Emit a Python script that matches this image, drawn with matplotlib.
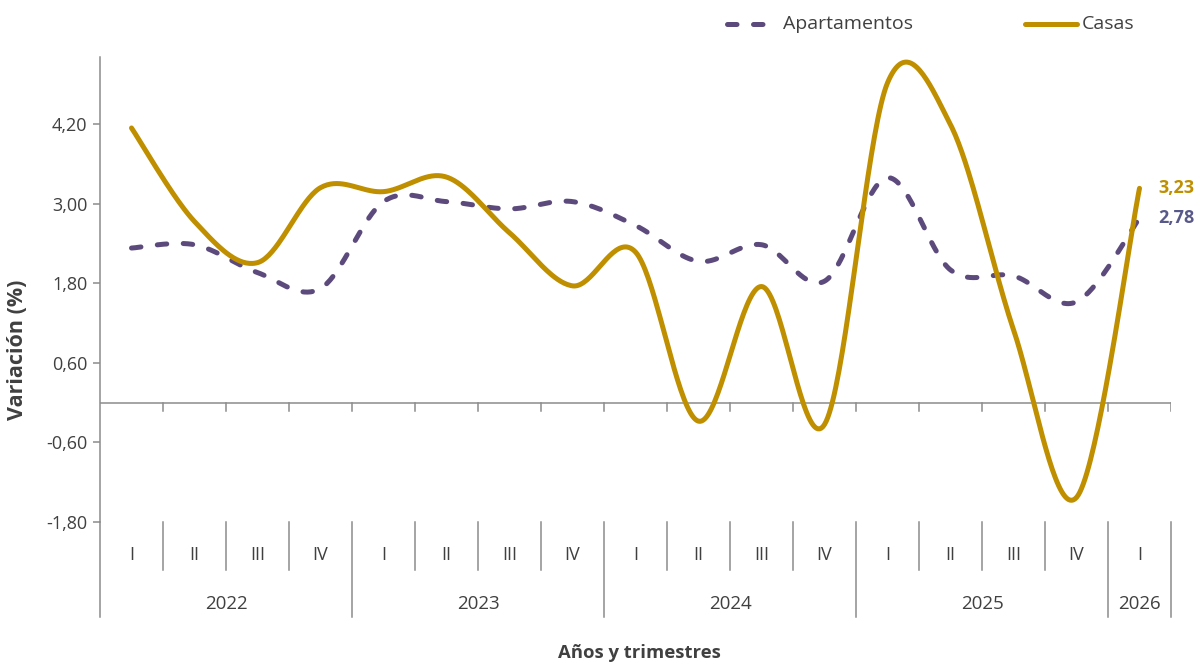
import numpy as np
import matplotlib
matplotlib.use('Agg')
import matplotlib.pyplot as plt
from matplotlib.lines import Line2D
from matplotlib.transforms import blended_transform_factory

# ---------------- data ----------------
years = ['2022', '2023', '2024', '2025', '2026']
quarters_per_year = [4, 4, 4, 4, 1]
quarter_labels = ['I', 'II', 'III', 'IV'] * 4 + ['I']
apartamentos = [2.33, 2.38, 1.96, 1.72, 3.03, 3.03, 2.92, 3.03, 2.67, 2.13,
                2.38, 1.83, 3.39, 2.00, 1.91, 1.52, 2.78]
casas = [4.14, 2.73, 2.11, 3.24, 3.18, 3.40, 2.56, 1.76, 2.27, -0.28,
         1.75, -0.33, 4.82, 4.19, 1.10, -1.43, 3.23]
yticks = [-1.80, -0.60, 0.60, 1.80, 3.00, 4.20]
last_apart_label = '2,78'
last_casas_label = '3,23'

# ---------------- style ----------------
W, H = 1199, 666
FONT = ['Open Sans', 'DejaVu Sans']
plt.rcParams['font.family'] = FONT
TXT = '#404040'
AX = '#8c8c8c'
PURPLE = '#5c4a7d'
GOLD = '#bf8f00'
LBL_PURPLE = '#58588a'


def smooth(vals, n=40):
    """Excel-like smoothed line (Catmull-Rom Bezier through points)."""
    y = np.asarray(vals, float)
    x = np.arange(len(y), dtype=float)
    P = np.column_stack([x, y])
    Pe = np.vstack([P[0], P, P[-1]])
    t = np.linspace(0, 1, n)[:, None]
    out = []
    for i in range(len(P) - 1):
        p0, p1, p2, p3 = Pe[i], Pe[i + 1], Pe[i + 2], Pe[i + 3]
        b0 = p1
        b1 = p1 + (p2 - p0) / 6
        b2 = p2 - (p3 - p1) / 6
        b3 = p2
        seg = ((1 - t) ** 3) * b0 + 3 * ((1 - t) ** 2) * t * b1 + 3 * (1 - t) * t ** 2 * b2 + t ** 3 * b3
        out.append(seg if i == 0 else seg[1:])
    a = np.vstack(out)
    return a[:, 0], a[:, 1]


fig = plt.figure(figsize=(W / 100, H / 100), dpi=100)
ax_left, ax_right, ax_top, ax_bot = 100, 1171, 57, 522
ax = fig.add_axes([ax_left / W, 1 - ax_bot / H, (ax_right - ax_left) / W, (ax_bot - ax_top) / H])

n = len(casas)
ax.set_xlim(-0.5, n - 0.5)
ax.set_ylim(-1.80, 5.21)

dash_style = (0, (1.9, 3.3))
xs, ys = smooth(apartamentos)
ax.plot(xs, ys, color=PURPLE, lw=3.6, linestyle=dash_style, dash_capstyle='round',
        solid_capstyle='round', zorder=3, clip_on=False)
xs, ys = smooth(casas)
ax.plot(xs, ys, color=GOLD, lw=3.6, solid_capstyle='round', zorder=4, clip_on=False)

# axes styling
for s in ['top', 'right', 'bottom']:
    ax.spines[s].set_visible(False)
ax.spines['left'].set_color(AX)
ax.spines['left'].set_linewidth(1.1)
ax.set_yticks(yticks)
ax.set_yticklabels([f'{v:.2f}'.replace('.', ',') for v in yticks])
ax.tick_params(axis='y', colors=AX, labelcolor=TXT, labelsize=13, length=5, width=1.1, pad=4)
ax.set_xticks([])
ax.axhline(0, color=AX, lw=1.1, zorder=2)

# small ticks on the zero line
px = 1 / (ax_bot - ax_top)  # axes fraction per pixel (vertical)
for b in np.arange(0.5, n, 1.0):
    ax.add_line(Line2D([b, b], [0, -8 / 66.33], color=AX, lw=1.1, zorder=2))

# category area below axes
tb = blended_transform_factory(ax.transData, ax.transAxes)
boundaries = np.arange(-0.5, n, 1.0)
year_bounds = [-0.5]
acc = -0.5
for q in quarters_per_year:
    acc += q
    year_bounds.append(acc)
for b in boundaries:
    depth = 95 if any(abs(b - yb) < 1e-9 for yb in year_bounds) else 48
    ax.add_line(Line2D([b, b], [0, -depth * px], transform=tb, color=AX, lw=1.1, clip_on=False))
for i, ql in enumerate(quarter_labels):
    ax.text(i, -33 * px, ql, transform=tb, ha='center', va='center', fontsize=13, color=TXT)
for k, yr in enumerate(years):
    c = (year_bounds[k] + year_bounds[k + 1]) / 2
    ax.text(c, -82 * px, yr, transform=tb, ha='center', va='center', fontsize=13.5, color=TXT)

# end labels
ax.annotate(last_casas_label, xy=(n - 1, casas[-1]), xytext=(13.5, 0), textcoords='offset points',
            ha='left', va='center', fontsize=13, fontweight='bold', color=GOLD, annotation_clip=False)
ax.annotate(last_apart_label, xy=(n - 1, apartamentos[-1]), xytext=(13.5, 0), textcoords='offset points',
            ha='left', va='center', fontsize=13, fontweight='bold', color=LBL_PURPLE, annotation_clip=False)

# axis titles
fig.text(18 / W, 1 - 350 / H, 'Variación (%)', rotation=90, ha='center', va='center',
         fontsize=15.5, fontweight='bold', color=TXT)
fig.text(639 / W, 1 - 653 / H, 'Años y trimestres', ha='center', va='center',
         fontsize=13.3, fontweight='bold', color=TXT)

# legend (manual)
ly = 1 - 24 / H
fig.add_artist(Line2D([727 / W, 779 / W], [ly, ly], color=PURPLE, lw=3.6, linestyle=dash_style,
                      dash_capstyle='round', transform=fig.transFigure))
fig.text(783 / W, ly, 'Apartamentos', ha='left', va='center', fontsize=14, color=TXT)
fig.add_artist(Line2D([1025 / W, 1077 / W], [ly, ly], color=GOLD, lw=3.6,
                      solid_capstyle='round', transform=fig.transFigure))
fig.text(1082 / W, ly, 'Casas', ha='left', va='center', fontsize=14, color=TXT)

fig.savefig('out.png', dpi=100)
